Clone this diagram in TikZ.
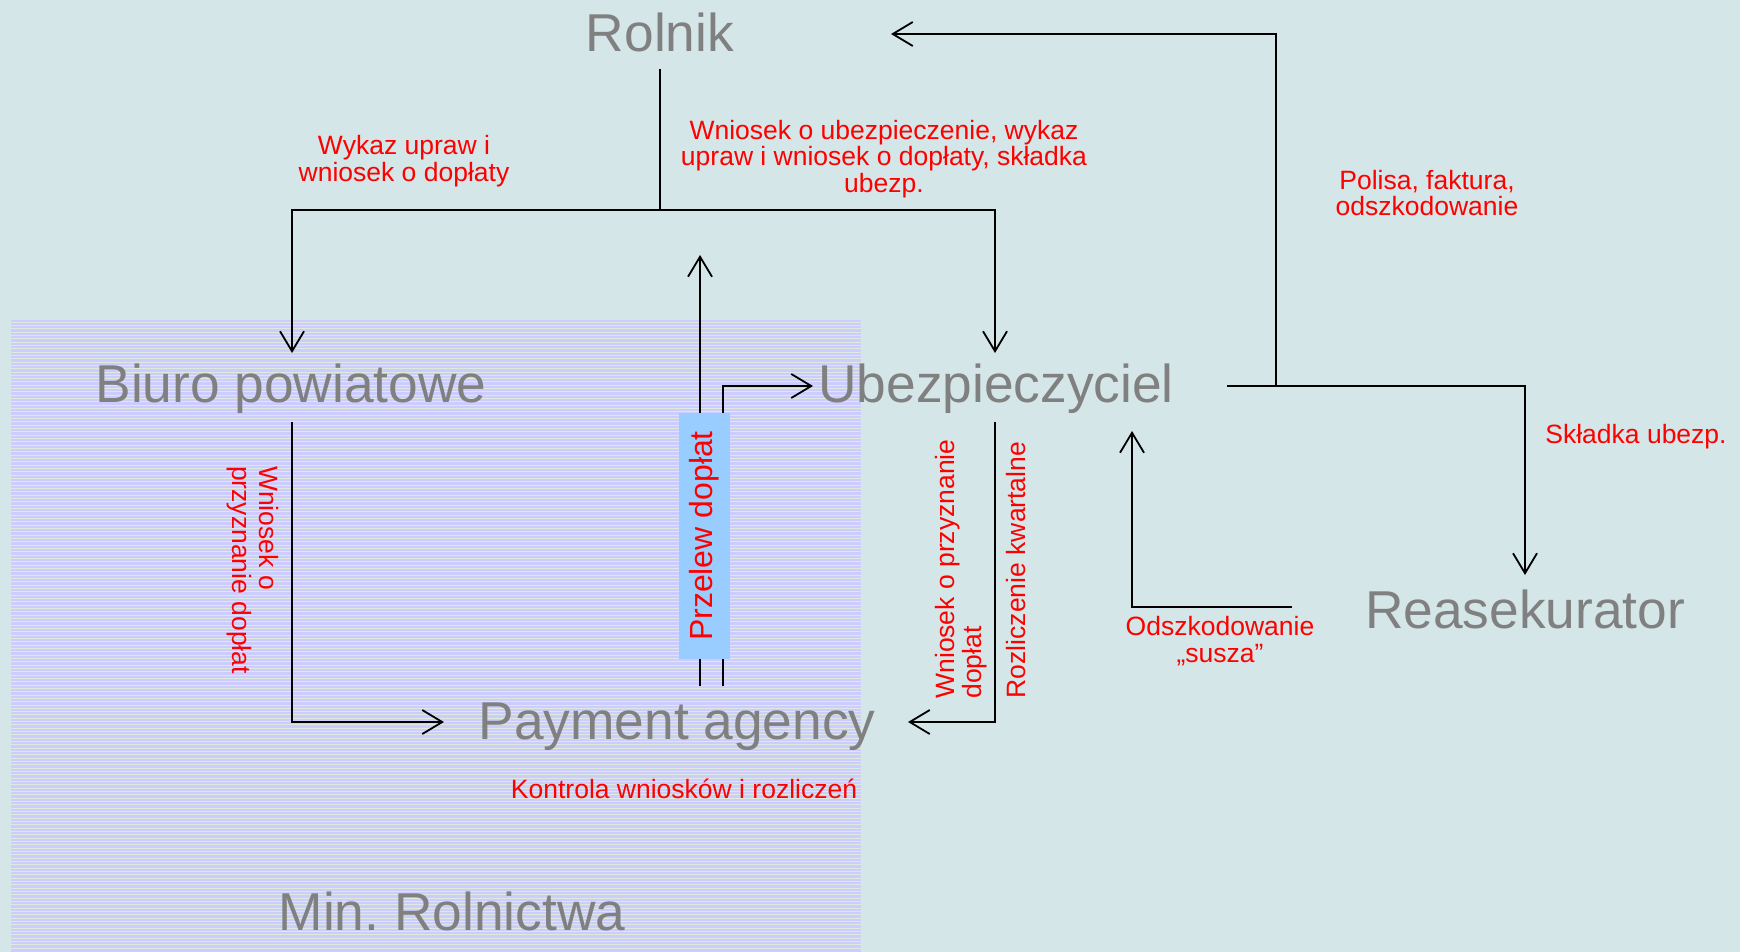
\documentclass[tikz,border=0pt]{standalone}
\usepackage{fontspec}
\setmainfont{Liberation Sans}
\usetikzlibrary{arrows.meta}
\definecolor{bgcol}{HTML}{D4E6E8}
\definecolor{zone}{HTML}{CCCCFF}
\definecolor{zoneline}{HTML}{DDEADD}
\definecolor{boxblue}{HTML}{99CCFF}
\definecolor{gtext}{HTML}{808080}
\tikzset{
  big/.style={text=gtext, font=\fontsize{53.3}{60}\selectfont, inner sep=0pt, anchor=base},
  lab/.style={text=red, font=\fontsize{26.5}{26.6}\selectfont, align=center, inner sep=0pt},
  conn/.style={line width=1.8pt, draw=black},
  arr/.style={conn, -{Straight Barb[length=20pt,width=24pt]}}
}
\frenchspacing
\begin{document}
\begin{tikzpicture}[x=1pt,y=-1pt]
\fill[bgcol] (0,0) rectangle (1740,952);
\useasboundingbox (0,0) rectangle (1740,952);
% Ministry zone
\fill[zone] (11,320) rectangle (861,952);
\foreach \yy in {322,325.33,...,951} {\draw[zoneline, line width=0.9pt] (11,\yy) -- (861,\yy);}
% main nodes
\node[big] (rol) at (660,52) {Rolnik};
\node[big] (biuro) at (291,402) {Biuro powiatowe};
\node[big] (ubez) at (996,402) {Ubezpieczyciel};
\node[big] (pa) at (677,739) {Payment agency};
\node[big] (rea) at (1525,628) {Reasekurator};
\node[big] (min) at (452,930) {Min. Rolnictwa};
% coordinates
\coordinate (rolS) at (660,69);
\coordinate (j1) at (660,210);
\coordinate (bTop) at (292,353);
\coordinate (uTop) at (995,353);
\coordinate (bBot) at (292,422);
\coordinate (paL) at (444,722);
\coordinate (uBot) at (995,422);
\coordinate (paR) at (908,722);
\coordinate (p1) at (700,686);
\coordinate (p1top) at (700,255);
\coordinate (p2) at (723,686);
\coordinate (uL) at (813,386);
\coordinate (uR) at (1227,386);
\coordinate (reTop) at (1525,575);
\coordinate (j2) at (1276,386);
\coordinate (rolR) at (891,34);
\coordinate (oR) at (1292,607);
\coordinate (uBot2) at (1132,431);
% connectors
\draw[conn] (rolS) -- (j1);
\draw[arr] (j1) -| (bTop);
\draw[arr] (j1) -| (uTop);
\draw[arr] (bBot) |- (paL);
\draw[arr] (uBot) |- (paR);
\draw[arr] (p1) -- (p1top);
\draw[arr] (p2) |- (uL);
\draw[arr] (uR) -| (reTop);
\draw[arr] (j2) |- (rolR);
\draw[arr] (oR) -| (uBot2);
% Przelew box
\node[fill=boxblue, rotate=90, minimum width=246pt, minimum height=51pt, inner sep=0pt,
      text=red, font=\fontsize{32}{36}\selectfont] (prz) at (704.5,536) {Przelew dopłat};
% labels
\node[lab] (l1) at (404,161) {Wykaz upraw i\\wniosek o dopłaty};
\node[lab] (l2) at (884,159) {Wniosek o ubezpieczenie, wykaz\\upraw i wniosek o dopłaty, składka\\ubezp.};
\node[lab] (l3) at (1427,193) {Polisa, faktura,\\odszkodowanie};
\node[lab] (l4) at (1636,437) {Składka ubezp.};
\node[lab, align=left, rotate=-90] (l5) at (253,570) {Wniosek o\\przyznanie dopłat};
\node[lab, align=left, rotate=90] (l6) at (961,569) {Wniosek o przyznanie\\dopłat};
\node[lab, rotate=90] (l7) at (1016,570) {Rozliczenie kwartalne};
\node[lab] (l8) at (1220,641) {Odszkodowanie\\„susza”};
\node[lab] (l9) at (684,789) {Kontrola wniosków i rozliczeń};
\end{tikzpicture}
\end{document}
